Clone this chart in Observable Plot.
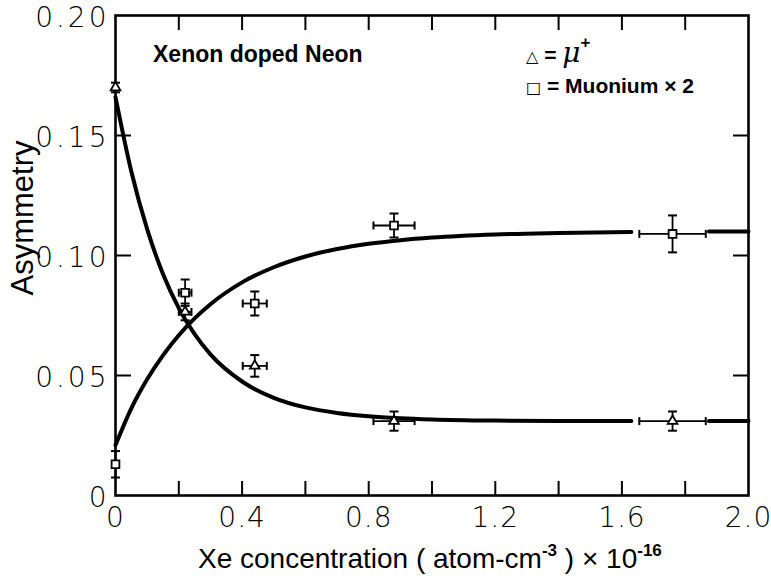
<!DOCTYPE html>
<html><head><meta charset="utf-8">
<script src="https://cdn.jsdelivr.net/npm/d3@7"></script>
<script src="https://cdn.jsdelivr.net/npm/@observablehq/plot@0.6"></script>
<style>body{margin:0;background:#fff}</style>
</head><body><div id="chart"></div>
<script>
// μ+ asymmetry (triangles)
const muX = [0, 0.22, 0.44, 0.88, 1.76];
const muY = [0.170, 0.0765, 0.054, 0.031, 0.031];
const muYErr = [0.002, 0.0035, 0.0045, 0.004, 0.004];
const muXErr = [0, 0.02, 0.038, 0.065, 0.105];
// Muonium ×2 asymmetry (squares)
const mX = [0, 0.22, 0.44, 0.88, 1.76];
const mY = [0.013, 0.0845, 0.080, 0.1125, 0.109];
const mYErr = [0.0055, 0.0055, 0.005, 0.005, 0.0077];
const mXErr = [0, 0.02, 0.038, 0.065, 0.105];
// fitted curves (null = gap in the drawn line)
const fitX  = [0, 0.05, 0.1, 0.15, 0.2, 0.25, 0.3, 0.4, 0.5, 0.6, 0.7, 0.8, 0.9, 1.0, 1.2, 1.4, 1.63, 1.75, 1.875, 2.0];
const muFit = [0.166, 0.135, 0.111, 0.0923, 0.0781, 0.0672, 0.0588, 0.0475, 0.0407, 0.0367, 0.0344, 0.033, 0.0322, 0.0317, 0.0312, 0.031, 0.031, null, 0.031, 0.031];
const mFit  = [0.021, 0.0363, 0.0484, 0.0584, 0.0668, 0.0738, 0.0797, 0.0888, 0.0951, 0.0996, 0.1027, 0.1049, 0.1064, 0.1075, 0.1088, 0.1094, 0.1098, null, 0.110, 0.110];
// ticks
const xMinorTicks = [0.2, 0.4, 0.6, 0.8, 1.0, 1.2, 1.4, 1.6, 1.8];
const xLabelTicks = [0, 0.4, 0.8, 1.2, 1.6, 2.0];
const xTickText = ["0", "0.4", "0.8", "1.2", "1.6", "2.0"];
const yMinorTicks = [0.05, 0.10, 0.15];
const yLabelTicks = [0, 0.05, 0.10, 0.15, 0.20];
const yTickText = ["0", "0.05", "0.10", "0.15", "0.20"];

const mu = muX.map((x, i) => ({x, y: muY[i], ey: muYErr[i], ex: muXErr[i]}));
const mn = mX.map((x, i) => ({x, y: mY[i], ey: mYErr[i], ex: mXErr[i]}));
const fit = fitX.map((x, i) => ({x, mu: muFit[i], m: mFit[i]}));
const pts = mu.concat(mn);
const withX = pts.filter(d => d.ex > 0);

const hcap = {draw(c, size) { const r = Math.sqrt(size / Math.PI); c.moveTo(-r, 0); c.lineTo(r, 0); }};
const vcap = {draw(c, size) { const r = Math.sqrt(size / Math.PI); c.moveTo(0, -r); c.lineTo(0, r); }};

const FONT = "'DejaVu Sans', sans-serif";

const svg = Plot.plot({
  width: 771, height: 576,
  marginLeft: 115, marginRight: 23, marginTop: 15, marginBottom: 81,
  style: {fontFamily: FONT, background: "white", color: "black"},
  x: {domain: [0, 2]},
  y: {domain: [0, 0.2]},
  marks: [
    Plot.axisX(xMinorTicks, {anchor: "bottom", tickSize: -14, strokeWidth: 2, tickFormat: () => "", label: null}),
    Plot.axisX(xMinorTicks, {anchor: "top", tickSize: -14, strokeWidth: 2, tickFormat: () => "", label: null}),
    Plot.axisY(yMinorTicks, {anchor: "left", tickSize: -16, strokeWidth: 2, tickFormat: () => "", label: null}),
    Plot.axisY(yMinorTicks, {anchor: "right", tickSize: -16, strokeWidth: 2, tickFormat: () => "", label: null}),
    Plot.axisX(xLabelTicks, {anchor: "bottom", tickSize: 0, tickPadding: 12, fontSize: 28, fontWeight: 200,
      tickFormat: (d) => xTickText[xLabelTicks.indexOf(d)], label: null}),
    Plot.axisY(yLabelTicks, {anchor: "left", tickSize: 0, tickPadding: 6, fontSize: 28, fontWeight: 200, dy: 3,
      tickFormat: (d) => yTickText[yLabelTicks.indexOf(d)], label: null}),
    Plot.frame({strokeWidth: 2.6}),
    Plot.line(fit, {x: "x", y: "mu", strokeWidth: 4, curve: "monotone-x"}),
    Plot.line(fit, {x: "x", y: "m", strokeWidth: 4, curve: "monotone-x"}),
    Plot.ruleX(pts, {x: "x", y1: d => d.y - d.ey, y2: d => d.y + d.ey, strokeWidth: 1.8}),
    Plot.ruleY(withX, {y: "y", x1: d => d.x - d.ex, x2: d => d.x + d.ex, strokeWidth: 1.8}),
    Plot.dot(pts, {x: "x", y: d => d.y + d.ey, symbol: hcap, r: 4.5, stroke: "black", strokeWidth: 2}),
    Plot.dot(pts, {x: "x", y: d => d.y - d.ey, symbol: hcap, r: 4.5, stroke: "black", strokeWidth: 2}),
    Plot.dot(withX, {x: d => d.x - d.ex, y: "y", symbol: vcap, r: 4, stroke: "black", strokeWidth: 2}),
    Plot.dot(withX, {x: d => d.x + d.ex, y: "y", symbol: vcap, r: 4, stroke: "black", strokeWidth: 2}),
    Plot.dot(mu, {x: "x", y: "y", symbol: "triangle", r: 3.6, stroke: "black", fill: "white", strokeWidth: 1.8}),
    Plot.dot(mn, {x: "x", y: "y", symbol: "square", r: 4.4, stroke: "black", fill: "white", strokeWidth: 1.8})
  ]
});

const s = d3.select(svg);
s.selectAll('g[aria-label="y-axis tick label"] text').style("letter-spacing", "3px");
s.selectAll('g[aria-label="x-axis tick label"] text').style("letter-spacing", "1px");

const LAB = "'Liberation Sans', Arial, sans-serif";
s.append("text").attr("x", 153).attr("y", 62).attr("text-anchor", "start").attr("font-family", LAB).attr("font-weight", "bold")
  .attr("font-size", 23).text("Xenon doped Neon");

// legend
const l1 = s.append("text").attr("x", 526).attr("y", 62).attr("text-anchor", "start").attr("font-family", LAB).attr("font-weight", "bold").attr("font-size", 21);
l1.append("tspan").attr("font-size", 16).attr("font-family", "'DejaVu Sans'").text("△");
l1.append("tspan").text(" = ");
l1.append("tspan").attr("font-style", "italic").attr("font-weight", "normal").attr("font-size", 28).attr("font-family", "'DejaVu Serif', serif").text("μ");
l1.append("tspan").attr("font-size", 17).attr("dy", -14).text("+");
const l2 = s.append("text").attr("x", 526).attr("y", 93).attr("text-anchor", "start").attr("font-family", LAB).attr("font-weight", "bold").attr("font-size", 21);
l2.append("tspan").attr("font-size", 16).attr("font-family", "'DejaVu Sans'").text("□");
l2.append("tspan").text(" = Muonium × 2");

// axis titles
s.append("text").attr("transform", "translate(33,218) rotate(-90)").attr("text-anchor", "middle")
  .attr("font-family", LAB).attr("font-size", 31).text("Asymmetry");
const xl = s.append("text").attr("x", 198).attr("y", 568).attr("text-anchor", "start").attr("font-family", LAB).attr("font-size", 28);
xl.append("tspan").text("Xe concentration ( atom-cm");
xl.append("tspan").attr("font-size", 17).attr("font-weight", "bold").attr("dy", -12).text("-3");
xl.append("tspan").attr("dy", 12).text(" ) × 10");
xl.append("tspan").attr("font-size", 17).attr("font-weight", "bold").attr("dy", -12).text("-16");

document.getElementById("chart").appendChild(svg);
</script>
</body></html>
